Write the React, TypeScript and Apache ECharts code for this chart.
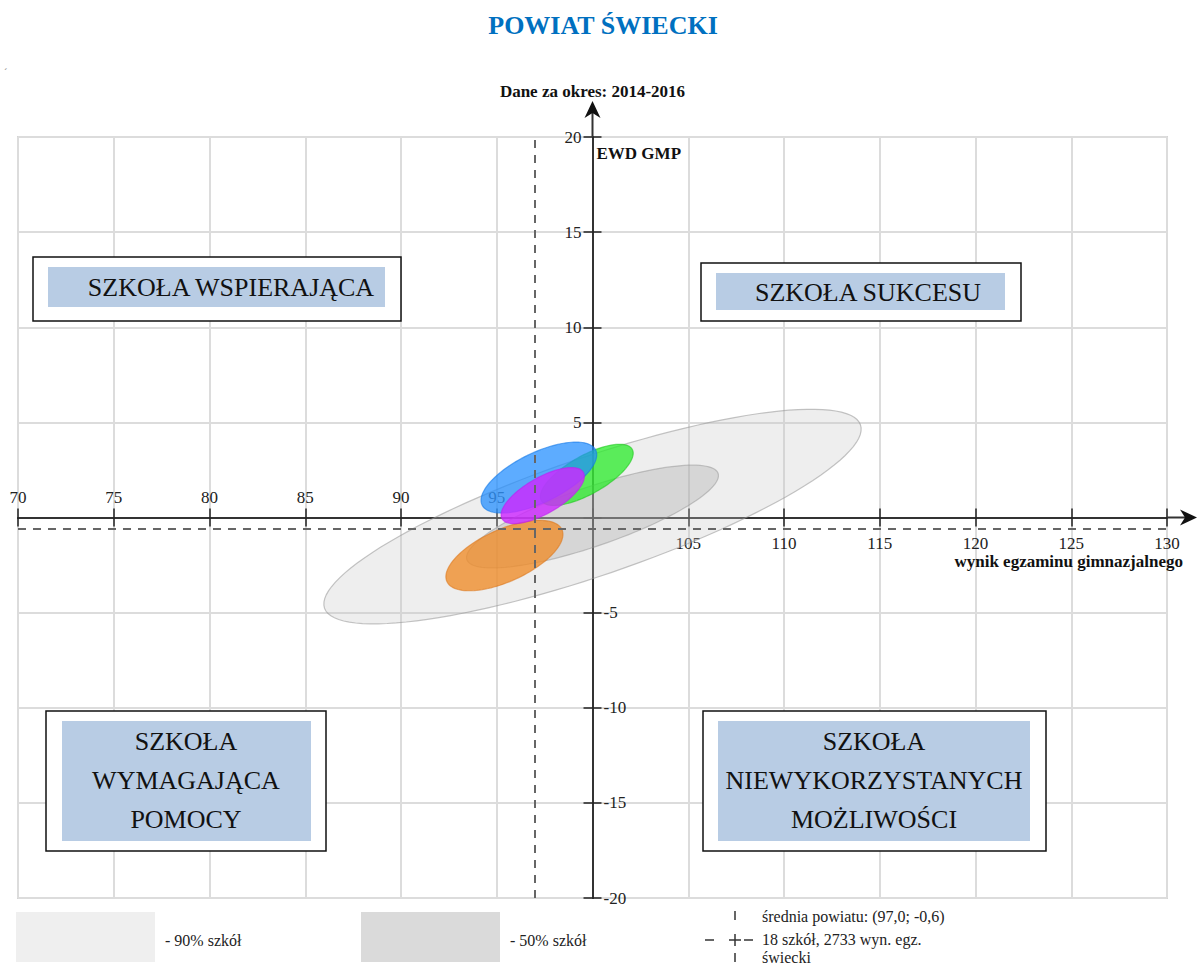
import React, { useEffect, useRef } from 'react';
import * as echarts from 'echarts';

const PAGE_W = 1198;
const PAGE_H = 964;

// Axes
const X_MIN = 70;
const X_MAX = 130;
const X_STEP = 5;
const Y_MIN = -20;
const Y_MAX = 20;
const Y_STEP = 5;
const X_CROSS = 100; // the vertical axis crosses the horizontal one at x = 100
const Y_CROSS = 0; // the horizontal axis crosses the vertical one at y = 0

// Ellipses (drawing order: 90% area, 50% area, then schools)
const ellipseNames = ['90% szkół', '50% szkół', 'szkoła 1', 'szkoła 2', 'szkoła 3', 'szkoła 4'];
const ellipseCenterX = [100.0, 100.0, 95.4, 99.7, 97.2, 97.4];
const ellipseCenterY = [0.05, 0.05, -2.0, 2.24, 2.1, 1.15];
const ellipseSemiMajor = [14.8, 6.94, 3.3, 2.73, 3.3, 2.45];
const ellipseSemiMinor = [3.1, 1.55, 1.37, 1.01, 1.31, 0.95];
const ellipseAngleDeg = [19, 19.1, 24.5, 29.6, 26, 30];

const ellipseFill = [
  'rgba(200,200,200,0.30)',
  'rgba(160,160,160,0.30)',
  'rgba(240,140,40,0.78)',
  'rgba(40,235,40,0.75)',
  'rgba(30,140,255,0.72)',
  'rgba(205,40,255,0.82)',
];
const ellipseStroke = [
  'rgba(150,150,150,0.55)',
  'rgba(140,140,140,0.45)',
  'rgba(220,120,30,0.6)',
  'rgba(30,200,30,0.6)',
  'rgba(20,120,230,0.6)',
  'rgba(190,30,240,0.6)',
];

// District mean
const meanX = 97.0;
const meanY = -0.6;
const schoolCount = 18;
const examCount = 2733;
const districtName = 'świecki';

const SERIF = "'Liberation Serif', 'Times New Roman', serif";

const fmtPl = (v: number) => v.toFixed(1).replace('.', ',');

export default function App() {
  const ref = useRef<HTMLDivElement>(null);

  useEffect(() => {
    if (!ref.current) return;
    const chart = echarts.init(ref.current, undefined, { renderer: 'svg' });

    const gridLeft = 18;
    const gridTop = 137;
    const gridWidth = 1149;
    const gridHeight = 761;
    const yOffLeft = -((X_CROSS - X_MIN) / (X_MAX - X_MIN)) * gridWidth;
    const yOffRight = -((X_MAX - X_CROSS) / (X_MAX - X_MIN)) * gridWidth;
    const xOffBottom = -((Y_CROSS - Y_MIN) / (Y_MAX - Y_MIN)) * gridHeight;
    const xOffTop = -((Y_MAX - Y_CROSS) / (Y_MAX - Y_MIN)) * gridHeight;

    const labelStyle = { fontFamily: SERIF, fontSize: 17, color: '#222' };
    const axisLineStyle = { color: '#333', width: 2 };
    const tickStyle = { color: '#222', width: 1.5 };

    const ellipseData = ellipseCenterX.map((cx, i) => [
      cx,
      ellipseCenterY[i],
      ellipseSemiMajor[i],
      ellipseSemiMinor[i],
      ellipseAngleDeg[i],
      i,
    ]);

    const option: any = {
      animation: false,
      backgroundColor: '#fff',
      grid: {
        left: gridLeft,
        top: gridTop,
        width: gridWidth,
        height: gridHeight,
        containLabel: false,
        outerBoundsMode: 'none',
        show: true,
        borderColor: '#d4d4d4',
        borderWidth: 2,
        backgroundColor: 'transparent',
      },
      xAxis: [
        {
          type: 'value',
          min: X_MIN,
          max: X_MAX,
          interval: X_STEP,
          position: 'bottom',
          offset: xOffBottom,
          axisLine: { show: true, onZero: false, lineStyle: axisLineStyle },
          axisTick: { show: true, inside: false, length: 9, lineStyle: tickStyle },
          axisLabel: {
            ...labelStyle,
            margin: 17,
            formatter: (v: number) => (v > X_CROSS ? String(v) : ''),
          },
          splitLine: { show: true, lineStyle: { color: '#dcdcdc', width: 2 } },
        },
        {
          type: 'value',
          min: X_MIN,
          max: X_MAX,
          interval: X_STEP,
          position: 'top',
          offset: xOffTop,
          axisLine: { show: true, onZero: false, lineStyle: axisLineStyle },
          axisTick: { show: true, inside: false, length: 9, lineStyle: tickStyle },
          axisLabel: {
            ...labelStyle,
            margin: 12,
            formatter: (v: number) => (v < X_CROSS ? String(v) : ''),
          },
          splitLine: { show: false },
        },
      ],
      yAxis: [
        {
          type: 'value',
          min: Y_MIN,
          max: Y_MAX,
          interval: Y_STEP,
          position: 'left',
          offset: yOffLeft,
          axisLine: { show: true, onZero: false, lineStyle: axisLineStyle },
          axisTick: { show: true, inside: false, length: 9, lineStyle: tickStyle },
          axisLabel: {
            ...labelStyle,
            margin: 11,
            formatter: (v: number) => (v > 0 ? String(v) : ''),
          },
          splitLine: { show: true, lineStyle: { color: '#dcdcdc', width: 2 } },
        },
        {
          type: 'value',
          min: Y_MIN,
          max: Y_MAX,
          interval: Y_STEP,
          position: 'right',
          offset: yOffRight,
          axisLine: { show: true, onZero: false, lineStyle: axisLineStyle },
          axisTick: { show: true, inside: false, length: 9, lineStyle: tickStyle },
          axisLabel: {
            ...labelStyle,
            margin: 11,
            formatter: (v: number) => (v < 0 ? String(v) : ''),
          },
          splitLine: { show: false },
        },
      ],
      series: [
        {
          type: 'custom',
          name: 'obszary',
          xAxisIndex: 0,
          yAxisIndex: 0,
          encode: { x: 0, y: 1 },
          data: ellipseData,
          z: 3,
          renderItem: (params: any, api: any) => {
            const cx = api.value(0);
            const cy = api.value(1);
            const a = api.value(2);
            const b = api.value(3);
            const th = (api.value(4) * Math.PI) / 180;
            const idx = api.value(5);
            const pts: number[][] = [];
            const N = 120;
            for (let k = 0; k < N; k++) {
              const t = (2 * Math.PI * k) / N;
              const dx = a * Math.cos(t);
              const dy = b * Math.sin(t);
              const x = cx + dx * Math.cos(th) - dy * Math.sin(th);
              const y = cy + dx * Math.sin(th) + dy * Math.cos(th);
              pts.push(api.coord([x, y]));
            }
            return {
              type: 'polygon',
              shape: { points: pts },
              style: { fill: ellipseFill[idx], stroke: ellipseStroke[idx], lineWidth: 1.2 },
            };
          },
        },
        {
          type: 'line',
          name: 'średnia',
          xAxisIndex: 0,
          yAxisIndex: 0,
          data: [],
          z: 4,
          markLine: {
            silent: true,
            symbol: ['none', 'none'],
            label: { show: false },
            lineStyle: { color: '#666', width: 2, type: [8, 7] },
            data: [{ xAxis: meanX }, { yAxis: meanY }],
          },
        },
      ],
    };

    chart.setOption(option);

    const toPx = (x: number, y: number) =>
      chart.convertToPixel({ xAxisIndex: 0, yAxisIndex: 0 } as any, [x, y]) as number[];

    const origin = toPx(X_CROSS, Y_CROSS);
    const xEnd = toPx(X_MAX, Y_CROSS);
    const yEnd = toPx(X_CROSS, Y_MAX);

    const box = (
      x: number,
      y: number,
      w: number,
      h: number,
      ix: number,
      iy: number,
      iw: number,
      ih: number,
      text: string,
      tx: number,
      ty: number
    ) => ({
      type: 'group',
      children: [
        {
          type: 'rect',
          shape: { x, y, width: w, height: h },
          style: { fill: '#fff', stroke: '#111', lineWidth: 1.5 },
        },
        {
          type: 'rect',
          shape: { x: ix, y: iy, width: iw, height: ih },
          style: { fill: '#b8cce4' },
        },
        {
          type: 'text',
          x: tx,
          y: ty,
          style: {
            text,
            fill: '#111',
            font: `26px ${SERIF}`,
            align: 'center',
            verticalAlign: 'middle',
            lineHeight: 39,
          },
        },
      ],
    });

    const smallLine = (x1: number, y1: number, x2: number, y2: number) => ({
      type: 'line',
      shape: { x1, y1, x2, y2 },
      style: { stroke: '#333', lineWidth: 1.5 },
    });

    const graphic: any[] = [
      {
        type: 'text',
        x: 603,
        y: 25,
        style: {
          text: 'POWIAT ŚWIECKI',
          fill: '#0070c0',
          font: `bold 26px ${SERIF}`,
          align: 'center',
          verticalAlign: 'middle',
        },
      },
      {
        type: 'text',
        x: 4,
        y: 72,
        style: { text: '´', fill: '#777', font: `10px ${SERIF}`, align: 'left', verticalAlign: 'middle' },
      },
      {
        type: 'text',
        x: origin[0],
        y: 91,
        style: {
          text: 'Dane za okres: 2014-2016',
          fill: '#111',
          font: `bold 17px ${SERIF}`,
          align: 'center',
          verticalAlign: 'middle',
        },
      },
      {
        type: 'text',
        x: origin[0] + 4,
        y: 153,
        style: {
          text: 'EWD GMP',
          fill: '#111',
          font: `bold 17px ${SERIF}`,
          align: 'left',
          verticalAlign: 'middle',
        },
      },
      {
        type: 'text',
        x: 1183,
        y: 561,
        style: {
          text: 'wynik egzaminu gimnazjalnego',
          fill: '#111',
          font: `bold 17px ${SERIF}`,
          align: 'right',
          verticalAlign: 'middle',
        },
      },
      // axis arrows
      {
        type: 'line',
        shape: { x1: xEnd[0], y1: xEnd[1], x2: 1186, y2: xEnd[1] },
        style: { stroke: '#333', lineWidth: 2 },
        z: 10,
      },
      {
        type: 'polygon',
        shape: {
          points: [
            [1197, xEnd[1]],
            [1180, xEnd[1] - 8],
            [1185, xEnd[1]],
            [1180, xEnd[1] + 8],
          ],
        },
        style: { fill: '#111' },
        z: 10,
      },
      {
        type: 'line',
        shape: { x1: yEnd[0], y1: yEnd[1], x2: yEnd[0], y2: 112 },
        style: { stroke: '#333', lineWidth: 2 },
        z: 10,
      },
      {
        type: 'polygon',
        shape: {
          points: [
            [yEnd[0], 101],
            [yEnd[0] - 8, 118],
            [yEnd[0], 113],
            [yEnd[0] + 8, 118],
          ],
        },
        style: { fill: '#111' },
        z: 10,
      },
      // quadrant boxes
      box(33, 257, 368, 64, 48, 267, 337, 40, 'SZKOŁA WSPIERAJĄCA', 231, 287),
      box(701, 263, 320, 58, 716, 273, 289, 37, 'SZKOŁA SUKCESU', 868, 292),
      box(46, 711, 280, 140, 62, 721, 249, 120, 'SZKOŁA\nWYMAGAJĄCA\nPOMOCY', 186, 780),
      box(703, 711, 343, 140, 718, 721, 312, 120, 'SZKOŁA\nNIEWYKORZYSTANYCH\nMOŻLIWOŚCI', 874, 780),
      // legend
      { type: 'rect', shape: { x: 16, y: 912, width: 139, height: 50 }, style: { fill: '#efefef' } },
      {
        type: 'text',
        x: 165,
        y: 940,
        style: { text: `- ${ellipseNames[0]}`, fill: '#222', font: `16px ${SERIF}`, align: 'left', verticalAlign: 'middle' },
      },
      { type: 'rect', shape: { x: 361, y: 912, width: 139, height: 50 }, style: { fill: '#dadada' } },
      {
        type: 'text',
        x: 510,
        y: 940,
        style: { text: `- ${ellipseNames[1]}`, fill: '#222', font: `16px ${SERIF}`, align: 'left', verticalAlign: 'middle' },
      },
      smallLine(735, 911, 735, 920),
      smallLine(735, 934, 735, 946),
      smallLine(735, 953, 735, 962),
      smallLine(705, 940, 714, 940),
      smallLine(729, 940, 741, 940),
      smallLine(744, 940, 753, 940),
      {
        type: 'text',
        x: 762,
        y: 916,
        style: {
          text: `średnia powiatu: (${fmtPl(meanX)}; ${fmtPl(meanY)})`,
          fill: '#222',
          font: `16px ${SERIF}`,
          align: 'left',
          verticalAlign: 'middle',
        },
      },
      {
        type: 'text',
        x: 762,
        y: 939,
        style: {
          text: `${schoolCount} szkół, ${examCount} wyn. egz.`,
          fill: '#222',
          font: `16px ${SERIF}`,
          align: 'left',
          verticalAlign: 'middle',
        },
      },
      {
        type: 'text',
        x: 762,
        y: 957,
        style: { text: districtName, fill: '#222', font: `16px ${SERIF}`, align: 'left', verticalAlign: 'middle' },
      },
    ];

    chart.setOption({ graphic });

    return () => {
      chart.dispose();
    };
  }, []);

  return (
    <div
      ref={ref}
      style={{ position: 'absolute', left: 0, top: 0, width: PAGE_W, height: PAGE_H, background: '#fff' }}
    />
  );
}
